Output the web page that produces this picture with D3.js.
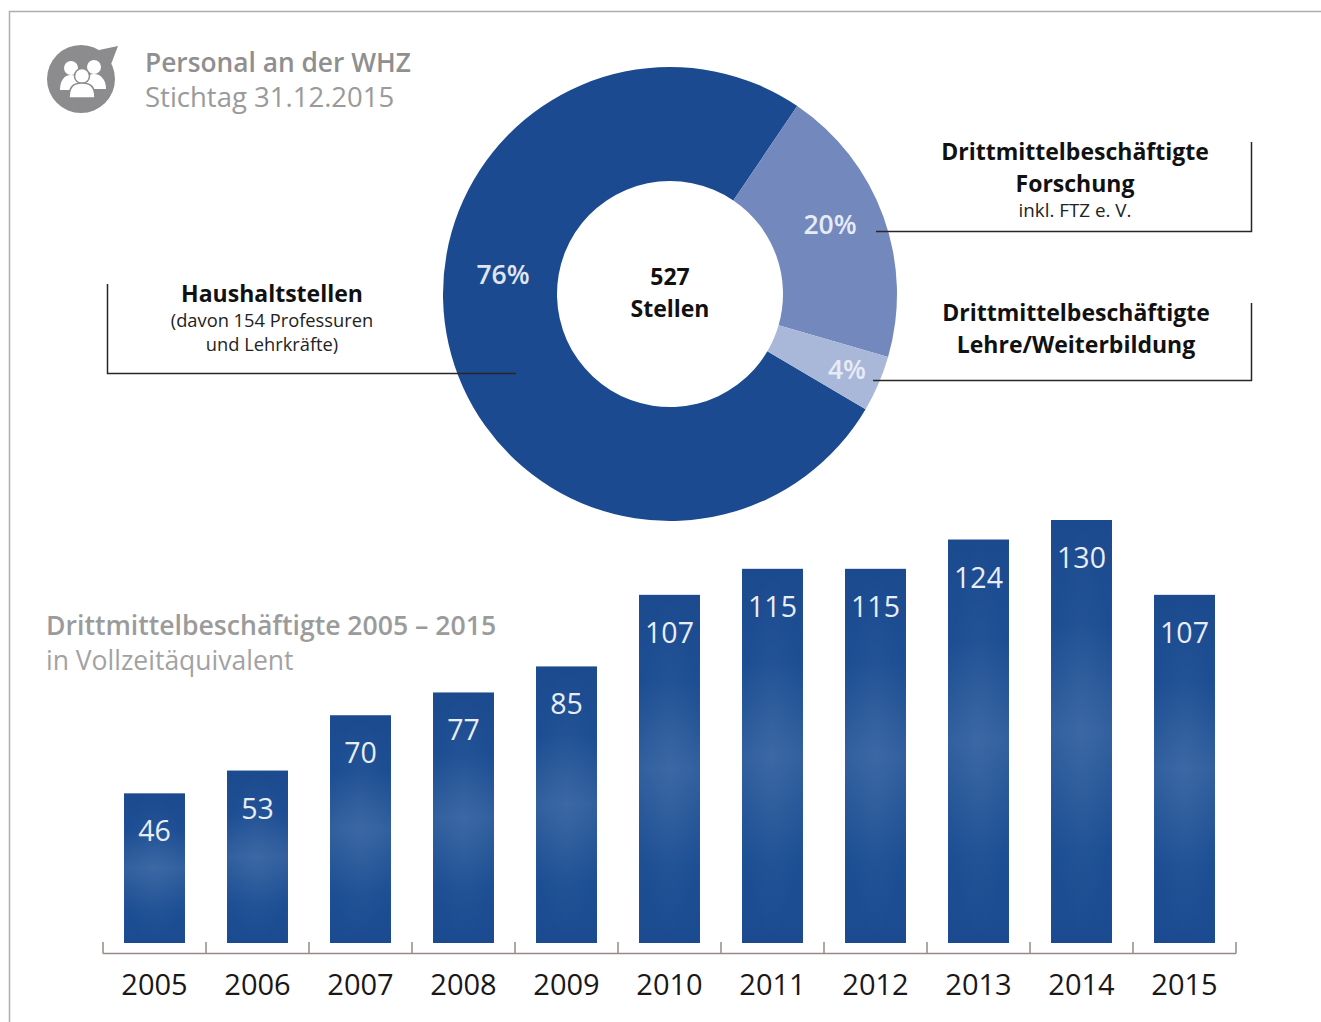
<!DOCTYPE html>
<html>
<head>
<meta charset="utf-8">
<script src="https://cdn.jsdelivr.net/npm/d3@7"></script>
<style>
  html, body { margin: 0; padding: 0; background: #fff; }
  svg { display: block; }
  text { font-family: "Open Sans", sans-serif; }
</style>
</head>
<body>
<div id="chart"></div>
<script>
"use strict";

// == DATA ==
var sliceNames = ["Haushaltstellen", "Forschung", "Lehre/Weiterbildung"];
var sliceValues = [76, 20, 4];
var sliceLabels = ["76%", "20%", "4%"];
var years = ["2005", "2006", "2007", "2008", "2009", "2010", "2011", "2012", "2013", "2014", "2015"];
var staff = [46, 53, 70, 77, 85, 107, 115, 115, 124, 130, 107];

var width = 1321, height = 1022;
var svg = d3.select("#chart").append("svg")
  .attr("width", width)
  .attr("height", height);

// frame, top and left only
svg.append("path")
  .attr("d", "M9.5,1022V11.5H1321")
  .attr("fill", "none")
  .attr("stroke", "#b3aca8")
  .attr("stroke-width", 1.5);

// == BAR GRADIENTS ==
var defs = svg.append("defs");
var barGrad = defs.append("linearGradient")
  .attr("id", "barGrad")
  .attr("x1", 0).attr("x2", 0).attr("y1", 0).attr("y2", 1);
barGrad.selectAll("stop")
  .data([[0, "#1c4a8f"], [0.25, "#1d4e93"], [0.5, "#32609f"], [0.78, "#1d4f94"], [1, "#1b4a90"]])
  .enter().append("stop")
  .attr("offset", function (d) { return d[0]; })
  .attr("stop-color", function (d) { return d[1]; });
var glow = defs.append("radialGradient")
  .attr("id", "barGlow")
  .attr("cx", 0.5).attr("cy", 0.5).attr("r", 0.5);
glow.append("stop").attr("offset", 0).attr("stop-color", "#fff").attr("stop-opacity", 0.05);
glow.append("stop").attr("offset", 1).attr("stop-color", "#fff").attr("stop-opacity", 0);

// == HEADER ==
var icon = svg.append("g").attr("transform", "translate(81,79)");
icon.append("circle").attr("r", 34).attr("fill", "#8c8c8e");
icon.append("path").attr("d", "M18,-29L37,-33L29,-12Z").attr("fill", "#8c8c8e");
[[-10, -11, 7, "M-21,11C-21,2 -17,-4 -10,-4C-3,-4 1,2 1,11Z"],
 [13, -12, 7, "M2,10C2,1 6,-5 13,-5C20,-5 25,1 25,10Z"]].forEach(function (p) {
  icon.append("circle").attr("cx", p[0]).attr("cy", p[1]).attr("r", p[2]).attr("fill", "#fff");
  icon.append("path").attr("d", p[3]).attr("fill", "#fff");
});
icon.append("circle").attr("cx", 1).attr("cy", -3).attr("r", 7.5).attr("fill", "#fff").attr("stroke", "#8c8c8e").attr("stroke-width", 1.5);
icon.append("path")
  .attr("d", "M-12,19C-12,8 -8,4 1,4C10,4 14,8 14,19Z")
  .attr("fill", "#fff").attr("stroke", "#8c8c8e").attr("stroke-width", 1.5);

function label(x, y, str, size, weight, fill, anchor) {
  return svg.append("text")
    .attr("x", x).attr("y", y)
    .attr("font-size", size)
    .attr("font-weight", weight)
    .attr("fill", fill)
    .attr("text-anchor", anchor || "middle")
    .text(str);
}

label(145, 72, "Personal an der WHZ", 26.3, 600, "#8f8f90", "start");
label(145, 107, "Stichtag 31.12.2015", 27.5, 400, "#9a9a9b", "start");

// == DONUT ==
var cx = 670, cy = 294;
var pie = d3.pie()
  .sort(null)
  .startAngle(120.5 * Math.PI / 180)
  .endAngle((120.5 + 360) * Math.PI / 180);
var arc = d3.arc().innerRadius(113).outerRadius(227);
var sliceColor = d3.scaleOrdinal().domain(sliceNames).range(["#1c4a90", "#7388bd", "#a9b8d9"]);

var donut = svg.append("g").attr("transform", "translate(" + cx + "," + cy + ")");
donut.selectAll("path")
  .data(pie(sliceValues))
  .enter().append("path")
  .attr("d", arc)
  .attr("fill", function (d, i) { return sliceColor(sliceNames[i]); });

label(cx, 285, "527", 23, 700, "#111");
label(cx, 317, "Stellen", 23, 700, "#111");

label(503, 284, sliceLabels[0], 26.5, 600, "#dfe5f0");
label(830, 234, sliceLabels[1], 26.5, 600, "#e6ebf5");
label(847, 379, sliceLabels[2], 26.5, 600, "#e6ebf5");

// callouts
var leaders = [
  "M107.5,284V373.5H516",
  "M1251.5,142V231.5H876",
  "M1251.5,303V380.5H873"
];
svg.selectAll(".leader")
  .data(leaders)
  .enter().append("path")
  .attr("class", "leader")
  .attr("d", function (d) { return d; })
  .attr("fill", "none")
  .attr("stroke", "#2b2525")
  .attr("stroke-width", 1.5);

label(272, 302, "Haushaltstellen", 23, 700, "#111");
label(272, 327, "(davon 154 Professuren", 18.3, 400, "#222");
label(272, 351, "und Lehrkräfte)", 18.3, 400, "#222");

label(1075, 160, "Drittmittelbeschäftigte", 23, 700, "#111");
label(1075, 192, "Forschung", 23, 700, "#111");
label(1075, 217, "inkl. FTZ e. V.", 18.8, 400, "#222");

label(1076, 321, "Drittmittelbeschäftigte", 23, 700, "#111");
label(1076, 353, "Lehre/Weiterbildung", 23, 700, "#111");

// == BARS ==
label(46, 635, "Drittmittelbeschäftigte 2005 – 2015", 26.6, 600, "#9b9b9c", "start");
label(46, 670, "in Vollzeitäquivalent", 26.5, 400, "#a2a2a3", "start");

var baseY = 943;
var x = d3.scaleBand()
  .domain(years)
  .range([103, 1236])
  .paddingInner(0.408)
  .paddingOuter(0.204);
var y = d3.scaleLinear()
  .domain([0, 130])
  .range([baseY, 520]);

var bars = svg.selectAll(".bar")
  .data(staff)
  .enter().append("g")
  .attr("class", "bar");
bars.append("rect")
  .attr("x", function (d, i) { return x(years[i]); })
  .attr("y", function (d) { return y(d); })
  .attr("width", x.bandwidth())
  .attr("height", function (d) { return baseY - y(d); })
  .attr("fill", "url(#barGrad)");
bars.append("rect")
  .attr("x", function (d, i) { return x(years[i]); })
  .attr("y", function (d) { return y(d); })
  .attr("width", x.bandwidth())
  .attr("height", function (d) { return baseY - y(d); })
  .attr("fill", "url(#barGlow)");
bars.append("text")
  .attr("x", function (d, i) { return x(years[i]) + x.bandwidth() / 2; })
  .attr("y", function (d) { return y(d) + 48; })
  .attr("text-anchor", "middle")
  .attr("font-size", 28.5)
  .attr("font-weight", 400)
  .attr("fill", "#e8edf6")
  .text(function (d) { return d; });

// == AXIS ==
var axisY = 953;
var axis = svg.append("g")
  .attr("transform", "translate(0," + axisY + ")")
  .call(d3.axisBottom(x).tickSize(0).tickPadding(21));
axis.select(".domain").remove();
axis.selectAll("text")
  .attr("font-size", 29)
  .attr("font-family", "'Open Sans', sans-serif")
  .attr("fill", "#1a1718");

var edges = years.map(function (d) { return x(d) - x.step() * x.paddingOuter(); });
edges.push(x.range()[1]);
axis.append("path")
  .attr("d", "M" + edges[0] + ",0.5H" + edges[edges.length - 1])
  .attr("fill", "none")
  .attr("stroke", "#968a86")
  .attr("stroke-width", 1.5);
axis.selectAll(".edge")
  .data(edges)
  .enter().append("line")
  .attr("class", "edge")
  .attr("x1", function (d) { return d; })
  .attr("x2", function (d) { return d; })
  .attr("y1", 0.5)
  .attr("y2", -11)
  .attr("stroke", "#968a86")
  .attr("stroke-width", 1.5);
</script>
</body>
</html>
